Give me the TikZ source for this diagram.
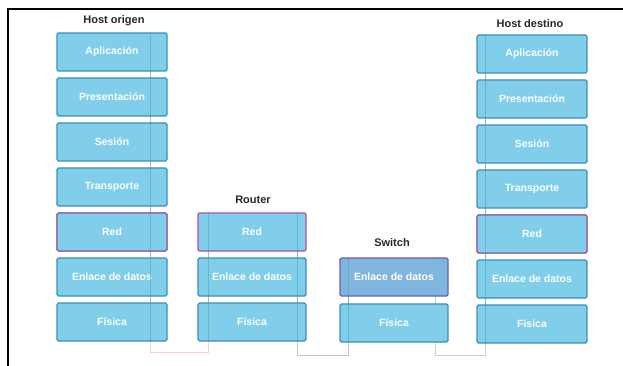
\documentclass[tikz,border=0pt]{standalone}
\usepackage{fontspec}
\setmainfont{Liberation Sans}
\definecolor{layerfill}{RGB}{128,206,234}
\definecolor{layerdraw}{RGB}{62,142,182}
\definecolor{netdraw}{RGB}{168,82,162}
\definecolor{swdraw}{RGB}{104,96,168}
\tikzset{layer/.style={draw=layerdraw,fill=layerfill,line width=1.2pt,rounded corners=1.5pt,minimum width=110pt,minimum height=38pt,inner sep=0pt,text=white,font=\fontsize{10.5}{12}\selectfont\bfseries}, netlayer/.style={layer,draw=netdraw}, hostlabel/.style={font=\fontsize{11}{13}\selectfont\bfseries,text=black!85,inner sep=1pt}, route/.style={line width=0.8pt,opacity=0.45}}

\begin{document}
\begin{tikzpicture}[x=1pt,y=-1pt]
\useasboundingbox (0,0) rectangle (623,366);
\draw[line width=1.5pt] (8,366) -- (8,9) -- (623,9);
% faint route of the data
\coordinate (r1) at (150,33); \coordinate (r2) at (150,352); \coordinate (r3) at (208,352); \coordinate (r4) at (208,212);
\coordinate (r5) at (297,212); \coordinate (r6) at (297,355); \coordinate (r7) at (348,355); \coordinate (r8) at (348,257);
\coordinate (r9) at (435,257); \coordinate (r10) at (435,355); \coordinate (r11) at (485,355); \coordinate (r12) at (485,35);
\draw[route,draw=magenta!50] (r1) -- (r2) -- (r3) -- (r4);
\draw[route,draw=gray] (r5) -- (r6) -- (r7) -- (r8);
\draw[route,draw=green!50!black!60] (r9) -- (r10) -- (r11) -- (r12);
% host origen
\node[hostlabel] (origen) at (114,21) {Host origen};
\foreach \name/\txt [count=\i] in {apl/Aplicación,pre/Presentación,ses/Sesión,tra/Transporte,red/Red,enl/Enlace de datos,fis/Física}
 \node[layer] (o\name) at (112,{52+(\i-1)*45}) {\txt};
\node[netlayer] at (ored) {Red};
% router
\node[hostlabel] (router) at (253,200) {Router};
\node[netlayer,minimum width=108pt] (rred) at (252,232) {Red};
\node[layer,minimum width=108pt] (renl) at (252,277) {Enlace de datos};
\node[layer,minimum width=108pt] (rfis) at (252,322) {Física};
% switch
\node[hostlabel] (switch) at (392,243) {Switch};
\node[layer,draw=swdraw,fill=layerfill!88!violet,minimum width=108pt] (senl) at (394,277) {Enlace de datos};
\node[layer,minimum width=108pt] (sfis) at (394,323) {Física};
% host destino
\node[hostlabel] (destino) at (530,24) {Host destino};
\foreach \name/\txt [count=\i] in {apl/Aplicación,pre/Presentación,ses/Sesión,tra/Transporte,red/Red,enl/Enlace de datos,fis/Física}
 \node[layer] (d\name) at (532,{54+(\i-1)*45}) {\txt};
\node[netlayer] at (dred) {Red};
% route inside the stacks
\draw[route,draw=layerdraw,opacity=0.4] (r1) -- (ofis.south -| r1);
\draw[route,draw=layerdraw,opacity=0.4] (rred.north -| r4) -- (rfis.south -| r4);
\draw[route,draw=layerdraw,opacity=0.4] (rred.north -| r5) -- (rfis.south -| r5);
\draw[route,draw=layerdraw,opacity=0.4] (senl.north -| r8) -- (sfis.south -| r8);
\draw[route,draw=layerdraw,opacity=0.4] (dapl.north -| r12) -- (dfis.south -| r12);
\end{tikzpicture}
\end{document}
